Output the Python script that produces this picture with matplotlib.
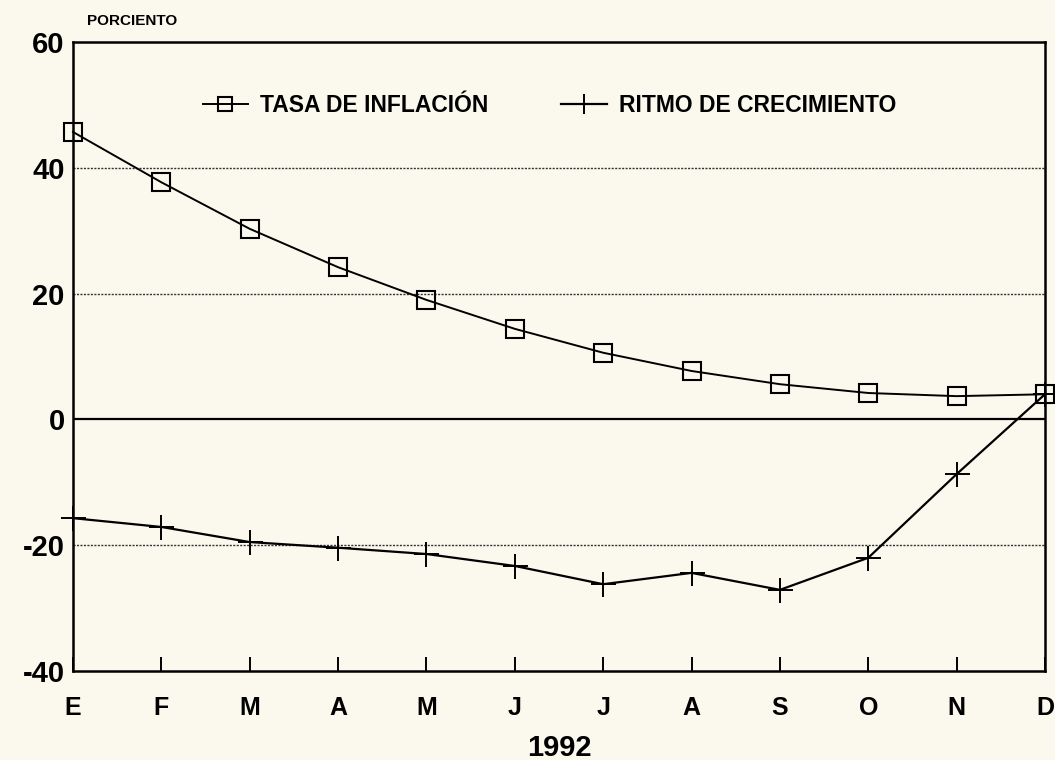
import numpy as np
import matplotlib
matplotlib.use("Agg")
import matplotlib.pyplot as plt

# ---------------- data ----------------
MONTHS = ["E", "F", "M", "A", "M", "J", "J", "A", "S", "O", "N", "D"]
INFLACION = [45.7, 37.7, 30.3, 24.2, 19.0, 14.4, 10.6, 7.7, 5.6, 4.2, 3.7, 4.0]
CRECIMIENTO = [-15.7, -17.1, -19.5, -20.4, -21.4, -23.3, -26.2, -24.4, -27.1, -22.0, -8.7, 4.0]
Y_TICKS = [-40, -20, 0, 20, 40, 60]
# --------------------------------------

BG = "#fbf9ee"
plt.rcParams["font.family"] = ["Liberation Sans", "DejaVu Sans"]
plt.rcParams["font.weight"] = "bold"

fig = plt.figure(figsize=(10.55, 7.6), dpi=100, facecolor=BG)
ax = fig.add_axes([0.0692, 0.1171, 0.9213, 0.8276], facecolor=BG)

x = np.arange(len(MONTHS))

for y in [40, 20, -20]:
    ax.axhline(y, color="#333333", linestyle=(0, (1.5, 1)), linewidth=1.0, zorder=1)
ax.axhline(0, color="black", linewidth=1.6, zorder=1)

ax.plot(x, INFLACION, color="black", linewidth=1.4, marker="s", markersize=13,
        markerfacecolor="none", markeredgewidth=1.5, label="TASA DE INFLACIÓN",
        zorder=3, clip_on=False)
ax.plot(x, CRECIMIENTO, color="black", linewidth=1.6, marker="+", markersize=18,
        markeredgewidth=1.4, label="RITMO DE CRECIMIENTO", zorder=3, clip_on=False)

ax.set_xlim(0, len(MONTHS) - 1)
ax.set_ylim(-40, 60)
ax.set_xticks(x)
ax.set_xticklabels(MONTHS, fontsize=18, fontweight="bold")
ax.set_yticks(Y_TICKS)
ax.set_yticklabels([str(v) for v in Y_TICKS], fontsize=21, fontweight="bold")
ax.tick_params(axis="x", direction="in", length=10, width=1.4, pad=18)
ax.tick_params(axis="y", length=0, pad=6)

for s in ax.spines.values():
    s.set_linewidth(1.8)

ax.set_xlabel("1992", fontsize=21, fontweight="bold", labelpad=10)
fig.text(0.082, 0.972, "PORCIENTO", fontsize=11, fontweight="bold", ha="left", va="center")

ax.legend(loc="upper center", bbox_to_anchor=(0.49, 0.95), ncol=2, frameon=False,
          handlelength=2.0, columnspacing=3.2, handletextpad=0.5,
          prop={"weight": "bold", "size": 16.5}, markerscale=0.8)

fig.savefig("out.png", dpi=100, facecolor=BG)
